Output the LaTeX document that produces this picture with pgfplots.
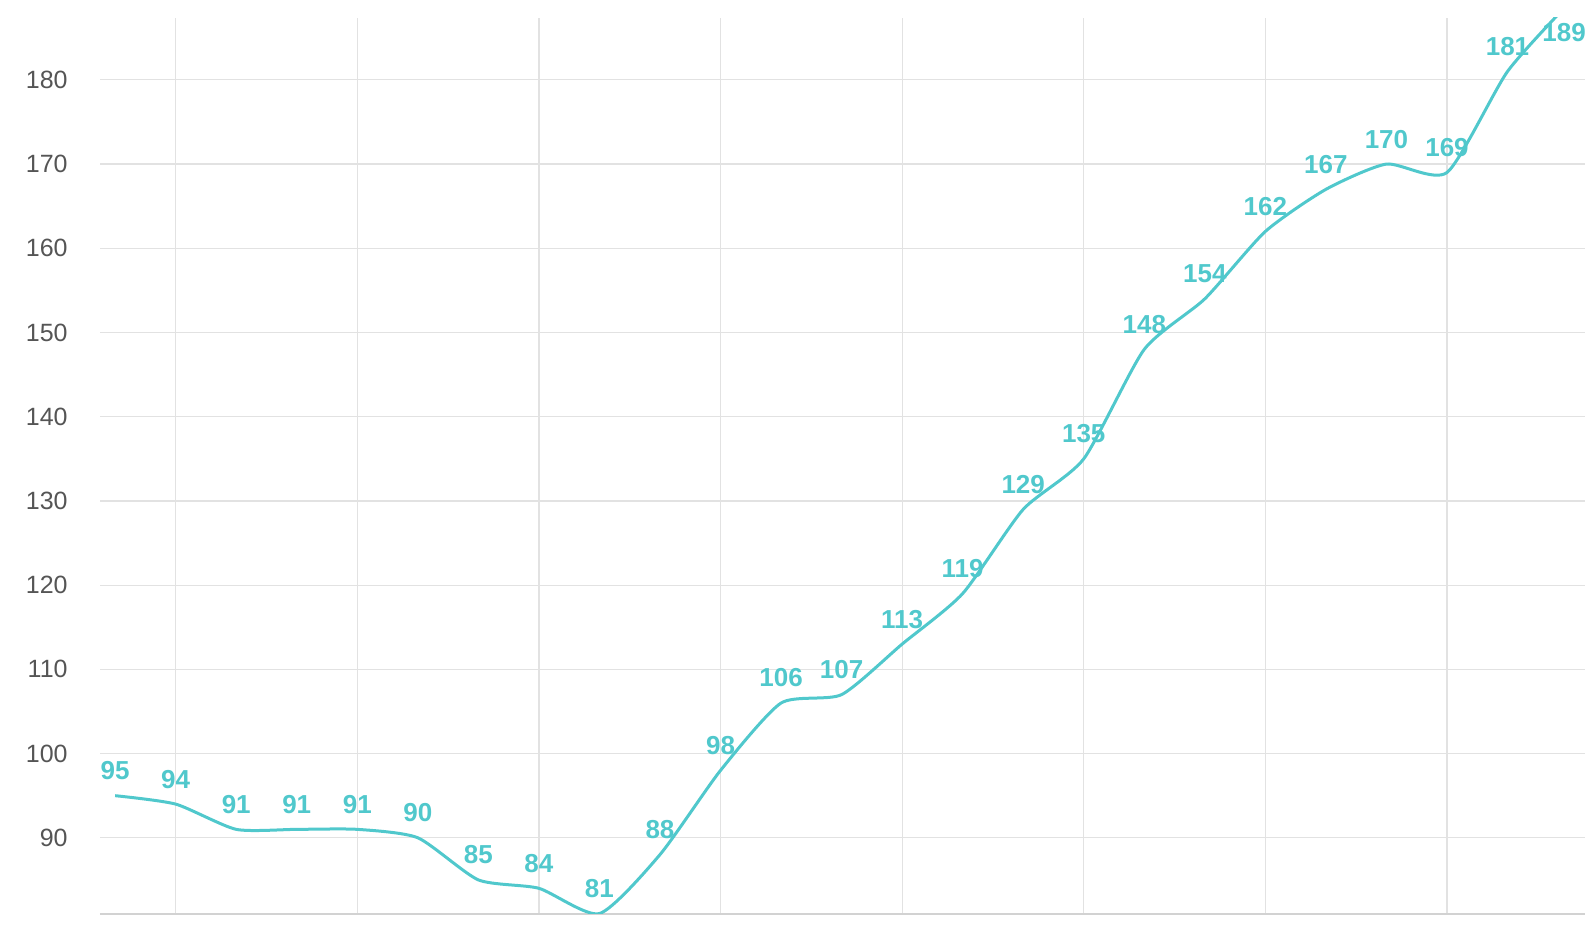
\documentclass[border=0pt]{standalone}
\usepackage{pgfplots}
\usepackage{pgfplotstable}
\pgfplotsset{compat=1.18}
\usepackage{fontspec}
\setmainfont{Liberation Sans}
\definecolor{lineteal}{RGB}{80,200,204}
\definecolor{ticktext}{RGB}{85,85,85}
\definecolor{gridgray}{RGB}{226,226,226}
\definecolor{basegray}{RGB}{210,210,210}

\pgfplotstableread{
x y
0 95
1 94
2 91
3 91
4 91
5 90
6 85
7 84
8 81
9 88
10 98
11 106
12 107
13 113
14 119
15 129
16 135
17 148
18 154
19 162
20 167
21 170
22 169
23 181
24 189
}\series

\begin{document}
\begin{tikzpicture}
\path[use as bounding box] (-50pt,-7.5pt) rectangle (747.5pt,457pt);
\begin{axis}[
    at={(0pt,0pt)}, anchor=south west,
    scale only axis,
    width=742.5pt, height=448pt,
    xmin=-0.25, xmax=24.28,
    ymin=80.95, ymax=187.35,
    xtick={1,4,...,22}, xticklabels={},
    ytick={90,100,...,180},
    major tick length=0pt,
    xmajorgrids, ymajorgrids,
    major grid style={color=gridgray, line width=0.6pt},
    axis x line*=bottom, axis y line*=left,
    x axis line style={color=basegray, line width=0.8pt, -},
    y axis line style={draw=none},
    /pgf/number format/assume math mode=true,
    yticklabel style={anchor=east, inner sep=0pt, xshift=-16pt,
        text=ticktext, font=\fontsize{12.5}{12.5}\selectfont},
]
\addplot[smooth, tension=0.38, color=lineteal, line width=1.5pt] table[x=x, y=y] {\series};
\addplot[draw=none, mark=none, restrict x to domain=0:23,
    nodes near coords,
    every node near coord/.append style={anchor=center, yshift=12.5pt,
        text=lineteal, font=\bfseries\fontsize{13}{13}\selectfont}]
    table[x=x, y=y] {\series};
\node[text=lineteal, font=\bfseries\fontsize{13}{13}\selectfont,
    xshift=-2pt, yshift=-14pt] at (axis cs:24,189) {189};
\end{axis}
\end{tikzpicture}
\end{document}
